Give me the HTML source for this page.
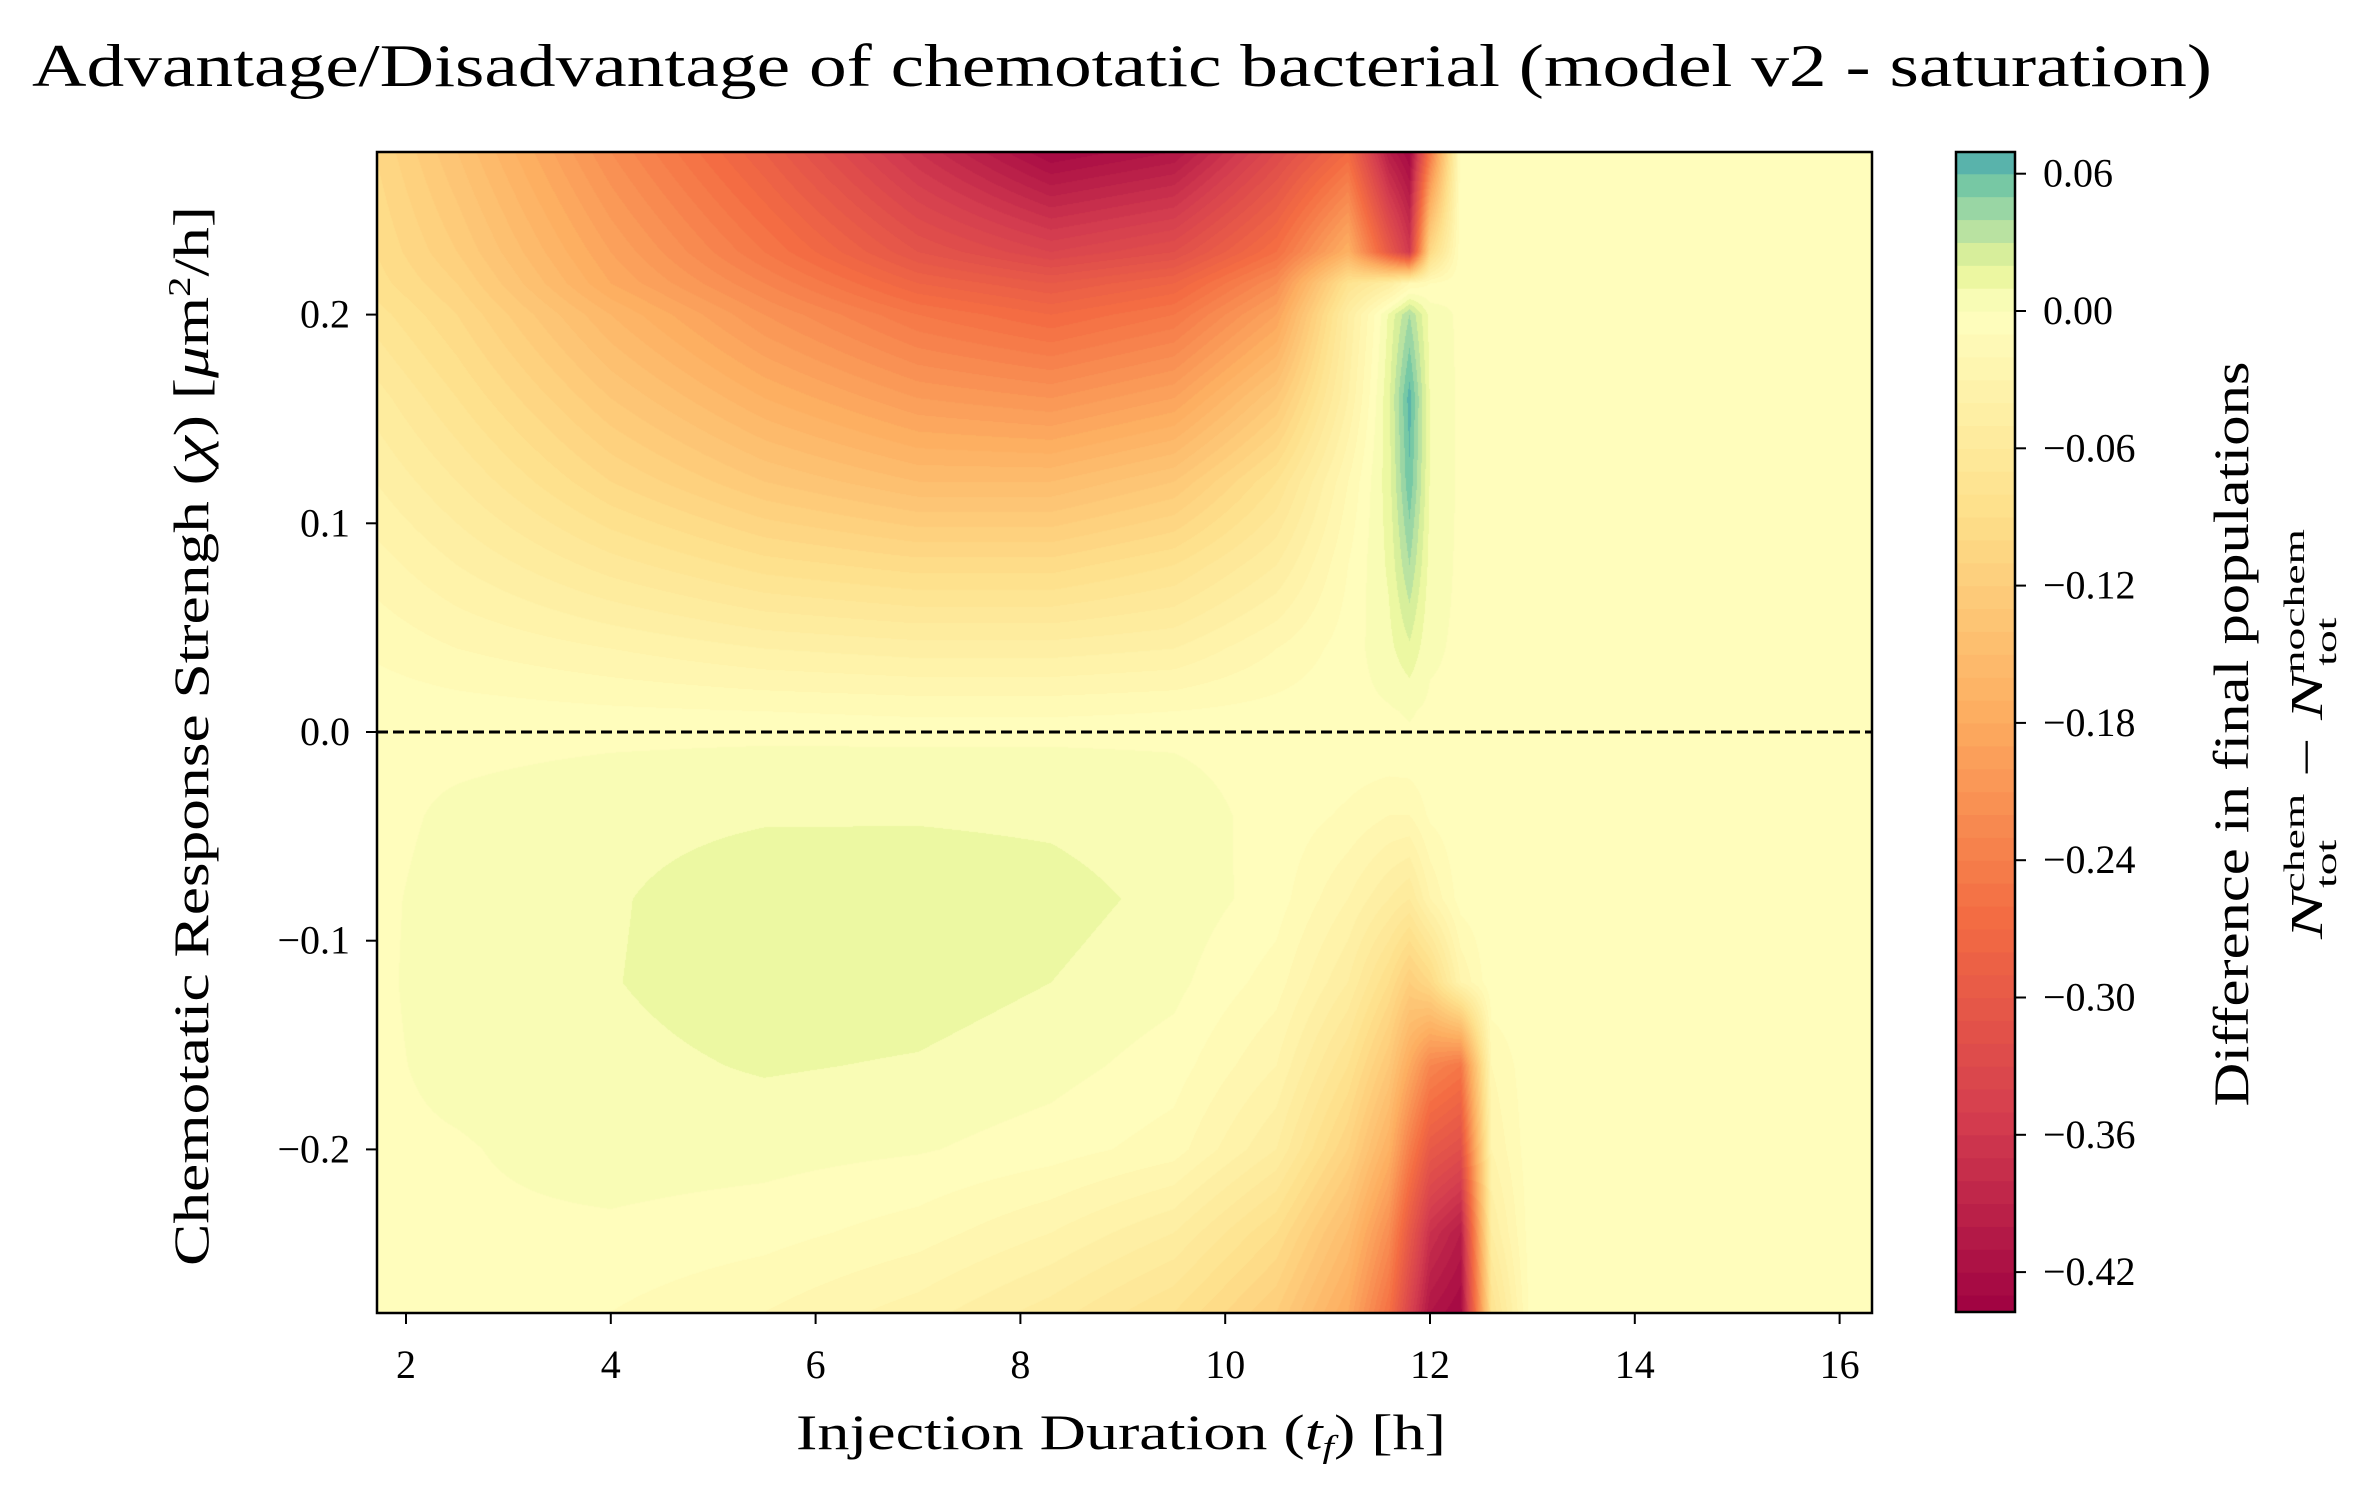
<!DOCTYPE html>
<html><head><meta charset="utf-8">
<style>
html,body{margin:0;padding:0;background:#fff;}
#wrap{position:relative;width:2365px;height:1487px;overflow:hidden;}
canvas{position:absolute;left:0;top:0;}
svg{position:absolute;left:0;top:0;}
text{font-family:"Liberation Serif",serif;fill:#000;}
</style></head>
<body>
<div id="wrap">
<canvas id="heat" width="2365" height="1487"></canvas>
<svg id="svg" width="2365" height="1487" xmlns="http://www.w3.org/2000/svg">
<text x="1122" y="86" font-size="60" text-anchor="middle" textLength="2180" lengthAdjust="spacingAndGlyphs">Advantage/Disadvantage of chemotatic bacterial (model v2 - saturation)</text>
<g id="axes"></g>
<text x="1121" y="1449" font-size="50" text-anchor="middle" textLength="650" lengthAdjust="spacingAndGlyphs">Injection Duration (<tspan font-style="italic">t</tspan><tspan font-style="italic" font-size="32" dy="8">f</tspan><tspan dy="-8">) [h]</tspan></text>
<text transform="translate(208,736) rotate(-90)" font-size="50" text-anchor="middle" textLength="1060" lengthAdjust="spacingAndGlyphs">Chemotatic Response Strengh (<tspan font-style="italic">χ</tspan>) [<tspan font-style="italic">μ</tspan>m<tspan font-size="32" dy="-18">2</tspan><tspan dy="18">/h]</tspan></text>
<text transform="translate(2248,734) rotate(-90)" font-size="50" text-anchor="middle" textLength="745" lengthAdjust="spacingAndGlyphs">Difference in final populations</text>
<text transform="translate(2322,734) rotate(-90)" font-size="46" text-anchor="middle" textLength="410" lengthAdjust="spacingAndGlyphs"><tspan font-style="italic">N</tspan><tspan font-size="30" dy="-18">chem</tspan><tspan font-size="30" dx="-62" dy="32">tot</tspan><tspan dy="-14" dx="30"> − </tspan><tspan font-style="italic">N</tspan><tspan font-size="30" dy="-18">nochem</tspan><tspan font-size="30" dx="-90" dy="32">tot</tspan></text>
</svg>
</div>
<script>
// ---- data ----
const xNodes = [1.7,2.5,4,5.5,7,8.3,9.5,10.5,11.2,11.6,11.8,12.0,12.3,12.6,13,16.3];
const yNodes = [0.278,0.23,0.215,0.20,0.16,0.12,0.08,0.04,0.01,-0.01,-0.04,-0.08,-0.12,-0.16,-0.20,-0.24,-0.278];
const zRow0 = [-0.10,-0.14,-0.22,-0.29,-0.37,-0.43,-0.41,-0.33,-0.27,-0.40,-0.43,-0.25,-0.002,-0.002,-0.002,-0.002];
const zRow1 = [-0.09,-0.12,-0.19,-0.25,-0.31,-0.34,-0.32,-0.26,-0.17,-0.30,-0.36,-0.10,-0.002,-0.002,-0.002,-0.002];
const zRow2 = [-0.085,-0.11,-0.18,-0.23,-0.28,-0.30,-0.28,-0.22,-0.08,-0.05,-0.02,-0.01,-0.002,-0.002,-0.002,-0.002];
const zRow3 = [-0.075,-0.10,-0.16,-0.21,-0.25,-0.27,-0.25,-0.19,-0.05,0.012,0.04,0.006,-0.002,-0.002,-0.002,-0.002];
const zRow4 = [-0.055,-0.08,-0.13,-0.17,-0.20,-0.21,-0.19,-0.13,-0.04,0.018,0.065,0.009,-0.002,-0.002,-0.002,-0.002];
const zRow5 = [-0.04,-0.06,-0.10,-0.13,-0.15,-0.15,-0.13,-0.08,-0.02,0.016,0.058,0.009,-0.002,-0.002,-0.002,-0.002];
const zRow6 = [-0.025,-0.04,-0.065,-0.085,-0.095,-0.095,-0.08,-0.05,-0.01,0.012,0.04,0.006,-0.002,-0.002,-0.002,-0.002];
const zRow7 = [-0.012,-0.02,-0.03,-0.04,-0.045,-0.045,-0.04,-0.02,-0.005,0.007,0.018,0.002,-0.002,-0.002,-0.002,-0.002];
const zRow8 = [-0.003,-0.005,-0.008,-0.01,-0.012,-0.012,-0.01,-0.006,-0.003,-0.001,0.001,-0.002,-0.002,-0.002,-0.002,-0.002];
const zRow9 = [-0.002,-0.002,0,0.002,0.002,0.002,0,-0.003,-0.004,-0.004,-0.003,-0.002,-0.002,-0.002,-0.002,-0.002];
const zRow10 = [-0.003,0.002,0.007,0.009,0.009,0.008,0.004,-0.003,-0.012,-0.02,-0.02,-0.008,-0.002,-0.002,-0.002,-0.002];
const zRow11 = [-0.002,0.004,0.009,0.016,0.017,0.014,0.007,-0.005,-0.03,-0.05,-0.06,-0.03,-0.005,-0.002,-0.002,-0.002];
const zRow12 = [-0.002,0.005,0.0095,0.016,0.015,0.010,0.003,-0.015,-0.05,-0.09,-0.12,-0.10,-0.03,-0.002,-0.002,-0.002];
const zRow13 = [-0.002,0.003,0.007,0.011,0.009,0.004,-0.005,-0.03,-0.08,-0.13,-0.18,-0.23,-0.25,-0.02,-0.002,-0.002];
const zRow14 = [-0.002,-0.001,0.005,0.004,0.001,-0.005,-0.015,-0.05,-0.11,-0.17,-0.24,-0.30,-0.32,-0.03,-0.002,-0.002];
const zRow15 = [-0.002,-0.002,-0.002,-0.006,-0.015,-0.03,-0.05,-0.09,-0.15,-0.22,-0.30,-0.37,-0.40,-0.05,-0.002,-0.002];
const zRow16 = [-0.004,-0.005,-0.01,-0.02,-0.035,-0.055,-0.08,-0.12,-0.18,-0.26,-0.34,-0.41,-0.43,-0.08,-0.002,-0.002];
const zRows = [zRow0,zRow1,zRow2,zRow3,zRow4,zRow5,zRow6,zRow7,zRow8,zRow9,zRow10,zRow11,zRow12,zRow13,zRow14,zRow15,zRow16];
const xTicks = [2,4,6,8,10,12,14,16];
const xTickLabels = ["2","4","6","8","10","12","14","16"];
const yTicks = [0.2,0.1,0.0,-0.1,-0.2];
const yTickLabels = ["0.2","0.1","0.0","\u22120.1","\u22120.2"];
const cbTicks = [0.06,0,-0.06,-0.12,-0.18,-0.24,-0.30,-0.36,-0.42];
const cbTickLabels = ["0.06","0.00","\u22120.06","\u22120.12","\u22120.18","\u22120.24","\u22120.30","\u22120.36","\u22120.42"];
const levelMin = -0.44, levelMax = 0.07, levelStep = 0.01;

// ---- scales ----
const PL=377, PR=1872, PT=152, PB=1313;
const X = v => 406 + (v-2)*102.4;
const Y = v => 732 - v*2087;
const CBL=1956, CBR=2015, CBT=152, CBB=1312;
const CY = v => 311 - v/0.06*137.3;

const spectral = [[158,1,66],[213,62,79],[244,109,67],[253,174,97],[254,224,139],[255,255,191],[230,245,152],[171,221,164],[102,194,165],[50,136,189],[94,79,162]];
function cmap(v){
  let t = v<0 ? 0.5 + v/0.88 : 0.5 + v*5;
  t=Math.max(0,Math.min(1,t));
  const f=t*10, i=Math.min(9,Math.floor(f)), r=f-i;
  const a=spectral[i], b=spectral[i+1];
  return [a[0]+(b[0]-a[0])*r, a[1]+(b[1]-a[1])*r, a[2]+(b[2]-a[2])*r];
}
function band(v){
  let k=Math.floor((v-levelMin)/levelStep);
  k=Math.max(0,Math.min(Math.round((levelMax-levelMin)/levelStep)-1,k));
  return levelMin+(k+0.5)*levelStep;
}
function seg(arr,v,desc){
  for(let i=0;i<arr.length-1;i++){
    const a=arr[i],b=arr[i+1];
    if(desc? (v<=a&&v>=b):(v>=a&&v<=b)) return [i,(v-a)/(b-a)];
  }
  return desc? (v>arr[0]?[0,0]:[arr.length-2,1]) : (v<arr[0]?[0,0]:[arr.length-2,1]);
}
function field(x,y){
  const [i,tx]=seg(xNodes,x,false), [j,ty]=seg(yNodes,y,true);
  const a=zRows[j][i], b=zRows[j][i+1], c=zRows[j+1][i], d=zRows[j+1][i+1];
  return (a*(1-tx)+b*tx)*(1-ty)+(c*(1-tx)+d*tx)*ty;
}
// ---- heatmap ----
const ctx=document.getElementById('heat').getContext('2d');
const W=PR-PL, H=PB-PT;
const img=ctx.createImageData(W,H);
const colCache={};
for(let py=0;py<H;py++){
  const yv=(732-(PT+py+0.5))/2087;
  for(let px=0;px<W;px++){
    const xv=2+(PL+px+0.5-406)/102.4;
    const bv=band(field(xv,yv));
    const key=bv.toFixed(3);
    let c=colCache[key]; if(!c){c=cmap(bv);colCache[key]=c;}
    const o=(py*W+px)*4;
    img.data[o]=c[0];img.data[o+1]=c[1];img.data[o+2]=c[2];img.data[o+3]=255;
  }
}
ctx.putImageData(img,PL,PT);

// ---- svg overlay ----
const NS='http://www.w3.org/2000/svg';
const g=document.getElementById('axes');
function el(tag,attrs,parent){const e=document.createElementNS(NS,tag);for(const k in attrs)e.setAttribute(k,attrs[k]);(parent||g).appendChild(e);return e;}

// colorbar bands
const cb=el('g',{});


const nb=Math.round((levelMax-levelMin)/levelStep);
for(let k=0;k<nb;k++){
  const lo=levelMin+k*levelStep, hi=lo+levelStep;
  const c=cmap(lo+levelStep/2);
  const y0=Math.max(CBT,CY(hi)), y1=Math.min(CBB,CY(lo)+0.6);
  if(y1<=y0) continue;
  const r=el('rect',{x:CBL,y:y0,width:CBR-CBL,height:y1-y0,fill:`rgb(${c[0]|0},${c[1]|0},${c[2]|0})`},cb);
  
  
}
const cbf=el('rect',{x:CBL,y:CBT,width:CBR-CBL,height:CBB-CBT,fill:'none',stroke:'#000','stroke-width':2.5},cb);


cbTicks.forEach((v,i)=>{
  const t=el('line',{x1:CBR,x2:CBR+11,y1:CY(v),y2:CY(v),stroke:'#000','stroke-width':2},cb);
  
  
  const tx=el('text',{x:2043,y:CY(v)+13,'font-size':40},cb);
  tx.textContent=cbTickLabels[i];
  
  
});

// zero dashed line
const zl=el('line',{x1:PL,x2:PR,y1:Y(0),y2:Y(0),stroke:'#000','stroke-width':3,'stroke-dasharray':'11,5'});



// frame
const fr=el('rect',{x:PL,y:PT,width:W,height:H,fill:'none',stroke:'#000','stroke-width':2.5});



xTicks.forEach((v,i)=>{
  const t=el('line',{x1:X(v),x2:X(v),y1:PB,y2:PB+11,stroke:'#000','stroke-width':2});
  
  
  const tx=el('text',{x:X(v),y:1378,'font-size':40,'text-anchor':'middle'});
  tx.textContent=xTickLabels[i];
  
  
});
yTicks.forEach((v,i)=>{
  const t=el('line',{x1:PL-11,x2:PL,y1:Y(v),y2:Y(v),stroke:'#000','stroke-width':2});
  
  
  const tx=el('text',{x:350,y:Y(v)+13,'font-size':40,'text-anchor':'end'});
  tx.textContent=yTickLabels[i];
  
  
});
</script>
</body></html>
